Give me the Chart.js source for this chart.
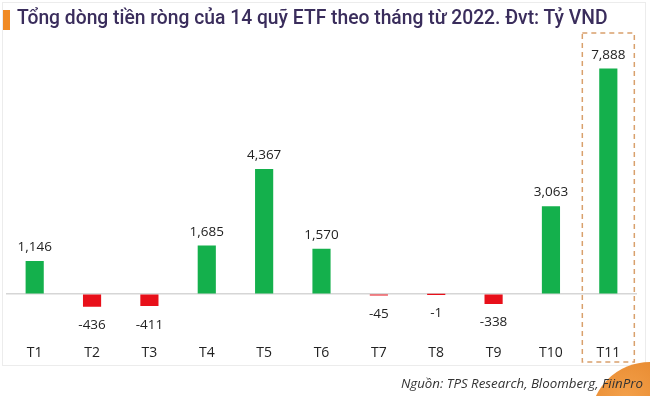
<!DOCTYPE html>
<html>
<head>
<meta charset="utf-8">
<script src="https://cdn.jsdelivr.net/npm/chart.js@4.4.1/dist/chart.umd.min.js"></script>
<style>
  html, body { margin:0; padding:0; background:#fff; }
  #wrap { position:relative; width:650px; height:396px; overflow:hidden; background:#fff; }
  #frame { position:absolute; left:2px; top:2px; width:644px; height:364px; border:1px solid #ececec; box-sizing:border-box; }
  #mark { position:absolute; left:3px; top:10px; width:7px; height:20px; background:#f08a24; }
  #title { position:absolute; left:17px; top:6px; font-family:Roboto, sans-serif; font-weight:500; font-size:19.3px; color:#3a2d5c; white-space:nowrap; }
  #blob { position:absolute; left:590px; top:362px; width:120px; height:120px; border-radius:50%; background:radial-gradient(circle at 30% 30%, #f3a04a, #e07b1e 70%); }
  #source { position:absolute; right:7px; top:374px; font-family:"Open Sans", sans-serif; font-style:italic; font-size:13.3px; color:#333; white-space:nowrap; }
  canvas { position:absolute; left:0; top:0; }
</style>
</head>
<body>
<div id="wrap">
  <div id="frame"></div>
  <div id="blob"></div>
  <canvas id="c" width="650" height="396"></canvas>
  <div id="mark"></div>
  <div id="title">Tổng dòng tiền ròng của 14 quỹ ETF theo tháng từ 2022. Đvt: Tỷ VND</div>
  <div id="source">Nguồn: TPS Research, Bloomberg, FiinPro</div>
</div>
<script>
const months = ['T1','T2','T3','T4','T5','T6','T7','T8','T9','T10','T11'];
const netFlows = [1146, -436, -411, 1685, 4367, 1570, -45, -1, -338, 3063, 7888];
const highlightMonth = 'T11';

const posColor = '#14b04c';
const negColor = '#e8101a';

const valueLabels = {
  id: 'valueLabels',
  afterDatasetsDraw(chart) {
    const ctx = chart.ctx;
    const meta = chart.getDatasetMeta(0);
    ctx.save();
    ctx.font = '13.5px "Open Sans", sans-serif';
    ctx.fillStyle = '#222';
    ctx.textAlign = 'center';
    ctx.textBaseline = 'middle';
    meta.data.forEach((bar, i) => {
      const v = netFlows[i];
      const txt = v.toLocaleString('en-US');
      if (v >= 0) ctx.fillText(txt, bar.x, bar.y - 14);
      else ctx.fillText(txt, bar.x, bar.y + 19);
    });
    ctx.restore();
  }
};

const highlightBox = {
  id: 'highlightBox',
  afterDraw(chart) {
    const ctx = chart.ctx;
    const xs = chart.scales.x;
    const idx = months.indexOf(highlightMonth);
    const cx = xs.getPixelForValue(idx);
    ctx.save();
    ctx.strokeStyle = '#d9a06c';
    ctx.lineWidth = 1.5;
    ctx.setLineDash([5, 4]);
    ctx.strokeRect(cx - 26, 33, 52, 329);
    ctx.restore();
  }
};

new Chart(document.getElementById('c'), {
  type: 'bar',
  data: {
    labels: months,
    datasets: [{
      data: netFlows,
      backgroundColor: netFlows.map(v => v >= 0 ? posColor : negColor),
      barThickness: 17.5,
      borderWidth: 0
    }]
  },
  options: {
    responsive: false,
    animation: false,
    devicePixelRatio: 1,
    layout: { padding: { left: 6, right: 13, top: 45.7, bottom: 27 } },
    plugins: { legend: { display: false }, tooltip: { enabled: false } },
    scales: {
      x: {
        grid: { display: false },
        border: { display: false },
        ticks: { color: '#222', font: { family: '"Open Sans", sans-serif', size: 14 }, padding: 8 }
      },
      y: {
        min: -1200,
        max: 8700,
        border: { display: false },
        ticks: { display: false, stepSize: 100 },
        grid: {
          drawTicks: false,
          color: c => c.tick.value === 0 ? '#d6d6d6' : 'rgba(0,0,0,0)',
          lineWidth: 1.5
        }
      }
    }
  },
  plugins: [valueLabels, highlightBox]
});
</script>
</body>
</html>
